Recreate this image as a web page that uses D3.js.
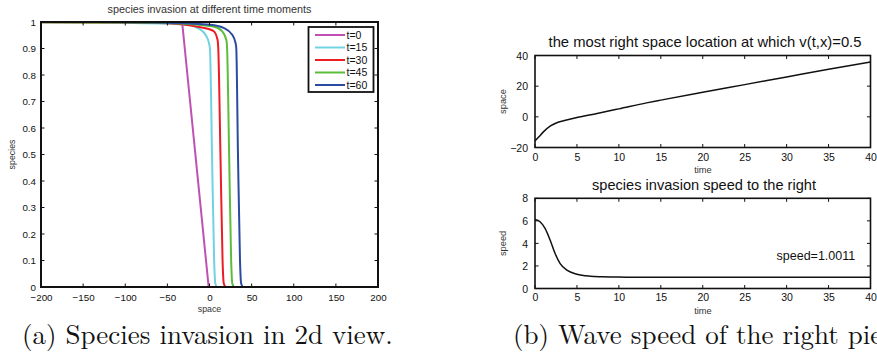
<!DOCTYPE html>
<html><head><meta charset="utf-8">
<script src="https://cdn.jsdelivr.net/npm/d3@7"></script>
<style>
html,body{margin:0;padding:0;background:#fff;}
svg{display:block;}
text{font-family:"Liberation Sans",Arial,Helvetica,sans-serif;}
.cap{font-family:"Latin Modern Roman","CMU Serif","Liberation Serif","DejaVu Serif",serif;}
</style></head>
<body>
<script>
// ---------- data ----------
const spaceTicks = [-200,-150,-100,-50,0,50,100,150,200];
const speciesTicks = [0,0.1,0.2,0.3,0.4,0.5,0.6,0.7,0.8,0.9,1];
const legendLabels = ["t=0","t=15","t=30","t=45","t=60"];
const seriesColors = ["#c051b4","#72d2e2","#ee1c24","#5cbd3c","#2b4c9e"];

const profileT0  = [[-200,1],[-32.5,1],[-1,0],[200,0]];
const profileT15 = [[-200,0.999],[-100,0.997],[-50,0.994],[-27,0.99],[-11,0.972],[-4,0.948],[-1,0.925],[0.5,0.9],[3,0.5],[5.5,0.1],[6.9,0.014],[8.9,0],[200,0]];
const profileT30 = [[-200,0.999],[-100,0.998],[-50,0.995],[-14,0.982],[4.9,0.966],[9.6,0.932],[10.4,0.9],[13,0.5],[15.5,0.1],[16.9,0.014],[19.5,0],[200,0]];
const profileT45 = [[-200,0.999],[-100,0.998],[-50,0.996],[4.6,0.983],[14.8,0.966],[20,0.932],[20.9,0.9],[23.3,0.5],[25.7,0.1],[27,0.014],[29.5,0],[200,0]];
const profileT60 = [[-200,1],[-100,0.999],[-50,0.997],[1,0.99],[16.7,0.978],[26.7,0.953],[31,0.92],[31.8,0.9],[33.8,0.5],[36.2,0.1],[37.5,0.014],[40,0],[200,0]];
const profiles = [profileT0, profileT15, profileT30, profileT45, profileT60];

const timeTicks = [0,5,10,15,20,25,30,35,40];
const locTicks = [-20,0,20,40];
const speedTicks = [0,2,4,6,8];
const locTime  = [0,0.5,1,1.8,2.6,3.4,5,7.4,10,13.3,15,20,25,30,35,40];
const locSpace = [-15.8,-12.8,-9.8,-6.1,-3.9,-2.6,-0.4,2.2,5.2,9.1,10.9,16,21,26,31,35.8];
const speedTime = [0,0.6,1.2,1.8,2.4,3,3.8,5,6.6,8,10,15,20,25,30,35,40];
const speedVals = [6.13,5.92,5.33,4.3,3.1,2.2,1.63,1.27,1.09,1.04,1.01,1.0,1.0,1.0,1.0,1.0,1.0];
const speedNote = "speed=1.0011";

// ---------- drawing ----------
const W=877,H=357;
const svg=d3.select("body").append("svg").attr("width",W).attr("height",H);

function frameAxes(g,x,y,xt,yt,opt){
  const [x0,x1]=x.range(), [y0,y1]=y.range();
  const tl=opt.tick||3.5;
  const fs=opt.fs||9.5;
  const bx=d3.axisBottom(x).tickValues(xt).tickSize(0).tickPadding(0).tickFormat(d=>d<0?"\u2212"+(-d):d);
  const ga=g.append("g").attr("transform",`translate(0,${y0})`).call(bx);
  ga.select(".domain").remove();
  ga.selectAll("text").attr("dy",null).attr("y",opt.xlabY).style("font-size",fs+"px").attr("fill","#111");
  const ly=d3.axisLeft(y).tickValues(yt).tickSize(0).tickPadding(0).tickFormat(d=>d<0?"\u2212"+(-d):d);
  const gl=g.append("g").attr("transform",`translate(${x0},0)`).call(ly);
  gl.select(".domain").remove();
  gl.selectAll("text").attr("x",-opt.ylabGap).attr("dy","0.35em").style("font-size",fs+"px").attr("fill","#111");
  const tg=g.append("g").attr("stroke","#111").attr("stroke-width",1);
  xt.forEach(v=>{const px=x(v);
    tg.append("line").attr("x1",px).attr("x2",px).attr("y1",y0).attr("y2",y0-tl);
    tg.append("line").attr("x1",px).attr("x2",px).attr("y1",y1).attr("y2",y1+tl);});
  yt.forEach(v=>{const py=y(v);
    tg.append("line").attr("x1",x0).attr("x2",x0+tl).attr("y1",py).attr("y2",py);
    tg.append("line").attr("x1",x1).attr("x2",x1-tl).attr("y1",py).attr("y2",py);});
}
function box(g,x,y,w){
  const [x0,x1]=x.range(), [y0,y1]=y.range();
  g.append("rect").attr("x",x0).attr("y",y1).attr("width",x1-x0).attr("height",y0-y1)
   .attr("fill","none").attr("stroke","#111").attr("stroke-width",w);
}

// ---- left panel ----
const gA=svg.append("g");
const xA=d3.scaleLinear().domain([-200,200]).range([41,378]);
const yA=d3.scaleLinear().domain([0,1]).range([287,22]);
const lineA=d3.line().x(d=>xA(d[0])).y(d=>yA(d[1]));
svg.append("clipPath").attr("id","clipA").append("rect")
  .attr("x",41).attr("y",20).attr("width",337).attr("height",268);
profiles.forEach((p,i)=>{
  gA.append("path").datum(p).attr("clip-path","url(#clipA)")
    .attr("d",lineA.curve(i===0?d3.curveLinear:d3.curveMonotoneX))
    .attr("fill","none").attr("stroke",seriesColors[i]).attr("stroke-width",2);
});
frameAxes(gA,xA,yA,spaceTicks,speciesTicks,{xlabY:13.5,ylabGap:5,fs:9.8,tick:3.5});
box(gA,xA,yA,2);
gA.append("text").attr("x",209.5).attr("y",13).attr("text-anchor","middle")
  .style("font-size","10.8px").attr("fill","#333").text("species invasion at different time moments");
gA.append("text").attr("x",209.5).attr("y",312).attr("text-anchor","middle")
  .style("font-size","8.8px").attr("fill","#333").text("space");
gA.append("text").attr("transform","translate(15,154.5) rotate(-90)").attr("text-anchor","middle")
  .style("font-size","8.8px").attr("fill","#333").text("species");
// legend
const lg=gA.append("g");
lg.append("rect").attr("x",308.5).attr("y",27).attr("width",65).attr("height",65)
  .attr("fill","#fff").attr("stroke","#111").attr("stroke-width",1.8);
const legY=d3.scalePoint().domain(legendLabels).range([35,85]);
legendLabels.forEach((l,i)=>{
  lg.append("line").attr("x1",315).attr("x2",345).attr("y1",legY(l)).attr("y2",legY(l))
    .attr("stroke",seriesColors[i]).attr("stroke-width",2);
  lg.append("text").attr("x",346.5).attr("y",legY(l)).attr("dy","0.35em")
    .style("font-size","10.5px").attr("fill","#111").text(l);
});

// ---- right top ----
const gB=svg.append("g");
const xB=d3.scaleLinear().domain([0,40]).range([535,870.5]);
const yB=d3.scaleLinear().domain([-20,40]).range([147.5,55.5]);
gB.append("path").datum(locTime.map((t,i)=>[t,locSpace[i]]))
  .attr("d",d3.line().x(d=>xB(d[0])).y(d=>yB(d[1])).curve(d3.curveMonotoneX))
  .attr("fill","none").attr("stroke","#111").attr("stroke-width",1.5);
frameAxes(gB,xB,yB,timeTicks,locTicks,{xlabY:13,ylabGap:7,fs:10.5,tick:3.5});
box(gB,xB,yB,1.6);
gB.append("text").attr("x",705).attr("y",47).attr("text-anchor","middle")
  .style("font-size","14.8px").attr("fill","#111").text("the most right space location at which v(t,x)=0.5");
gB.append("text").attr("x",703).attr("y",172.5).attr("text-anchor","middle")
  .style("font-size","9.3px").attr("fill","#333").text("time");
gB.append("text").attr("transform","translate(506,101.5) rotate(-90)").attr("text-anchor","middle")
  .style("font-size","9.3px").attr("fill","#333").text("space");

// ---- right bottom ----
const gC=svg.append("g");
const xC=d3.scaleLinear().domain([0,40]).range([535,870.5]);
const yC=d3.scaleLinear().domain([0,8]).range([288.5,198.3]);
gC.append("path").datum(speedTime.map((t,i)=>[t,speedVals[i]]))
  .attr("d",d3.line().x(d=>xC(d[0])).y(d=>yC(d[1])).curve(d3.curveMonotoneX))
  .attr("fill","none").attr("stroke","#111").attr("stroke-width",1.5);
frameAxes(gC,xC,yC,timeTicks,speedTicks,{xlabY:12.5,ylabGap:7,fs:10.5,tick:3.5});
box(gC,xC,yC,1.6);
gC.append("text").attr("x",704).attr("y",190).attr("text-anchor","middle")
  .style("font-size","14.6px").attr("fill","#111").text("species invasion speed to the right");
gC.append("text").attr("x",xC(28.8)).attr("y",yC(2.9)).attr("dy","0.35em")
  .style("font-size","12.5px").attr("fill","#111").text(speedNote);
gC.append("text").attr("x",703).attr("y",313.5).attr("text-anchor","middle")
  .style("font-size","9.3px").attr("fill","#333").text("time");
gC.append("text").attr("transform","translate(506,243.4) rotate(-90)").attr("text-anchor","middle")
  .style("font-size","9.3px").attr("fill","#333").text("speed");

// ---- captions ----
svg.append("text").attr("class","cap").attr("x",22).attr("y",344)
  .style("font-size","27px").attr("fill","#111").text("(a) Species invasion in 2d view.");
svg.append("text").attr("class","cap").attr("x",513).attr("y",344)
  .style("font-size","27px").attr("fill","#111").text("(b) Wave speed of the right piece");
</script>
</body></html>
